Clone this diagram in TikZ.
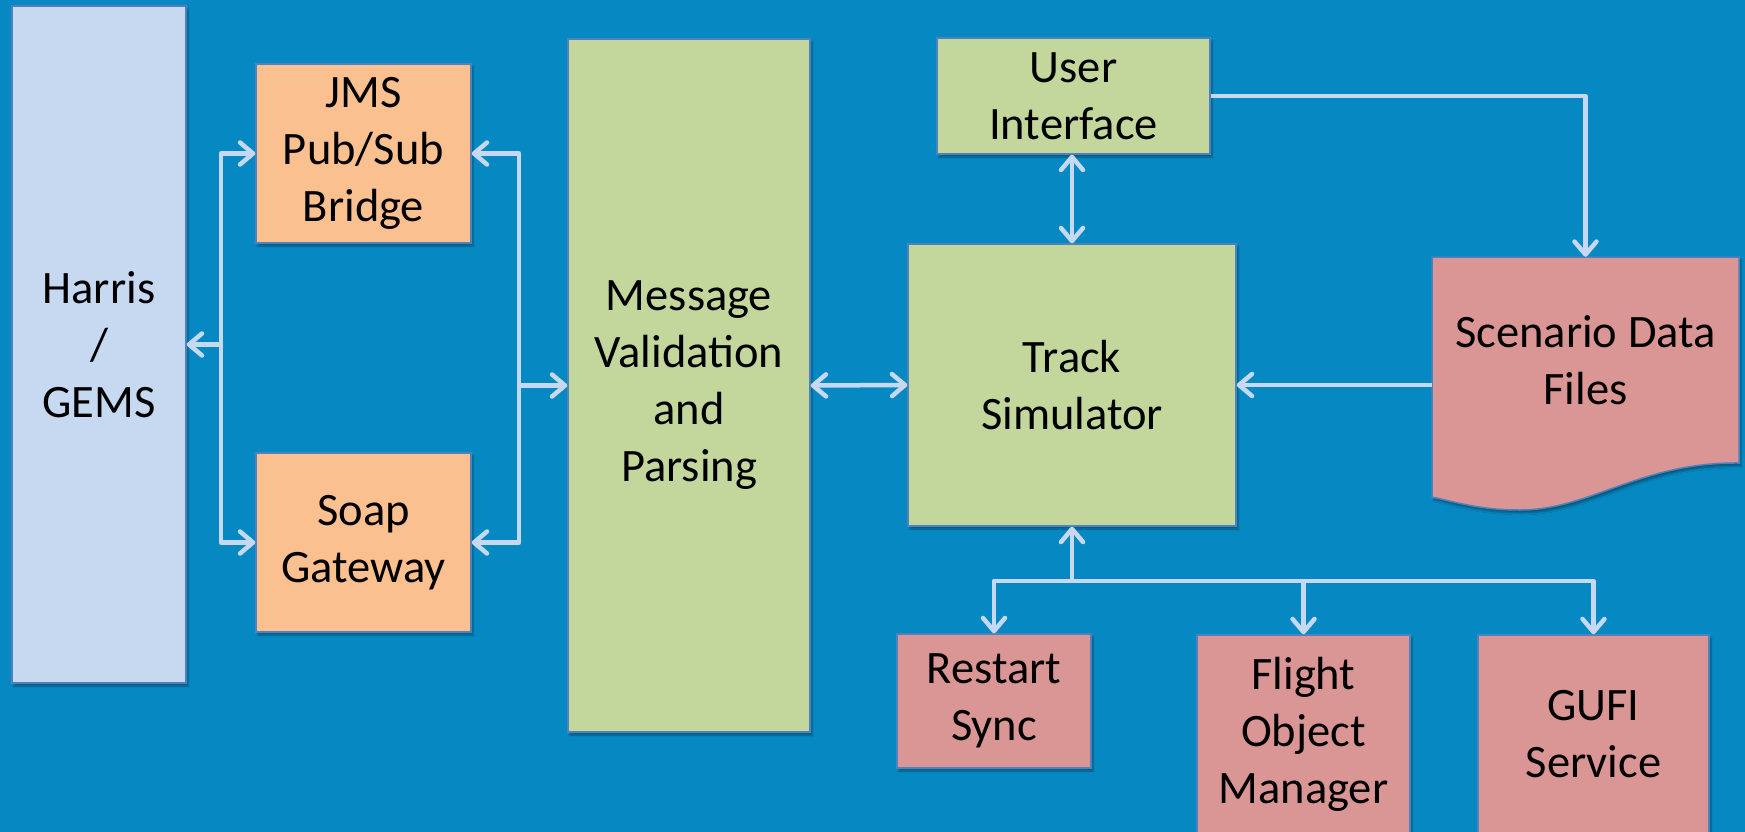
\documentclass[tikz,border=0pt]{standalone}
\usepackage{fontspec}
\setmainfont{Carlito}
\usetikzlibrary{arrows.meta,shadows.blur}
\definecolor{bg}{RGB}{6,137,194}
\definecolor{hblue}{HTML}{C6D9F1}
\definecolor{orng}{HTML}{FAC090}
\definecolor{grn}{HTML}{C3D69B}
\definecolor{pnk}{HTML}{D99694}
\definecolor{edgec}{HTML}{4F81BD}
\definecolor{arrc}{HTML}{C6D9F1}
\begin{document}
\begin{tikzpicture}[x=1pt,y=-1pt,
  box/.style={draw=edgec, line width=1.5pt, align=center, inner sep=0pt,
    font=\fontsize{46.5}{57}\selectfont,
    blur shadow={shadow xshift=2pt, shadow yshift=-3pt, shadow opacity=35, shadow blur steps=4}},
  arr/.style={draw=arrc, line width=4.5pt, line join=round,
    >={Straight Barb[length=13pt, width=22pt, line cap=round, line join=round]}}
]
\useasboundingbox (0,0) rectangle (1745,832);
\fill[bg] (0,0) rectangle (1745,832);

\node[box, fill=hblue, minimum width=174pt, minimum height=677pt] (Harris) at (99,344.5) {Harris\\/\\GEMS};
\node[box, fill=orng, minimum width=215pt, minimum height=179pt] (JMS) at (363.5,153.5) {JMS\\Pub/Sub\\Bridge};
\node[box, fill=orng, minimum width=215pt, minimum height=179pt] (Soap) at (363.5,542.5) {Soap\\Gateway};
\node[box, fill=grn, minimum width=242pt, minimum height=693pt] (MV) at (689,385.5) {Message\\Validation\\and\\Parsing};
\node[box, fill=grn, minimum width=273pt, minimum height=116pt] (UI) at (1073.5,96) {User\\Interface};
\node[box, fill=grn, minimum width=328pt, minimum height=282pt] (Track) at (1072,385) {Track\\Simulator};
\node[box, fill=pnk, minimum width=194pt, minimum height=134pt] (Restart) at (994,701) {Restart\\Sync};
\node[box, fill=pnk, minimum width=213pt, minimum height=198pt] (Flight) at (1303.5,734) {Flight\\Object\\Manager};
\node[box, fill=pnk, minimum width=231pt, minimum height=198pt] (GUFI) at (1593.5,734) {GUFI\\Service};

% document shape
\path[draw=edgec, line width=1.5pt, fill=pnk,
  blur shadow={shadow xshift=2pt, shadow yshift=-3pt, shadow opacity=35, shadow blur steps=4}]
  (1432,257) -- (1739,257) -- (1739,463)
  .. controls (1640,462) and (1590,510) .. (1520,510)
  .. controls (1480,510) and (1455,502) .. (1432,497) -- cycle;
\node[align=center, inner sep=0pt, font=\fontsize{46.5}{57}\selectfont,
  minimum width=307pt, minimum height=206pt] (scen) at (1585.5,360) {Scenario Data\\Files};

\coordinate (bl) at (221,0);
\coordinate (br) at (519,0);
\draw[arr,<->] (JMS.west) -- (JMS.west -| bl) -- (Soap.west -| bl) -- (Soap.west);
\draw[arr,->] (Harris.east -| bl) -- (Harris.east);
\draw[arr,<->] (JMS.east) -- (JMS.east -| br) -- (Soap.east -| br) -- (Soap.east);
\draw[arr,->] (MV.west -| br) -- (MV.west);
\draw[arr,<->] (MV.east) -- (Track.west);
\draw[arr,<->] (Track.north |- UI.south) -- (Track.north);
\draw[arr,->] (UI.east) -| (scen.north);
\draw[arr,->] (scen.west |- Track.east) -- (Track.east);
\path (Track.south) ++(0,54) coordinate (tb);
\draw[arr,<-] (Track.south) -- (tb);
\draw[arr,->] (tb) -| (Restart.north);
\draw[arr,->] (tb) -| (GUFI.north);
\draw[arr,->] (tb -| Flight.north) -- (Flight.north);
\end{tikzpicture}
\end{document}
